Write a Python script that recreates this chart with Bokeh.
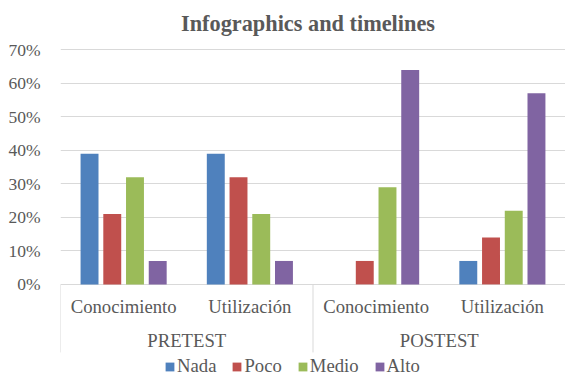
from bokeh.plotting import figure
from bokeh.models import (FactorRange, FixedTicker, NumeralTickFormatter, ColumnDataSource,
                          Legend, LegendItem, Range1d, Label)
from bokeh.transform import dodge
from bokeh.embed import file_html
from bokeh.resources import INLINE

# ---- data ----
groups = ["PRETEST", "POSTEST"]
subcats = ["Conocimiento", "Utilización"]
series = ["Nada", "Poco", "Medio", "Alto"]
colors = ["#4F81BD", "#C0504D", "#9BBB59", "#8064A2"]
nada = [39, 39, 0, 7]
poco = [21, 32, 7, 14]
medio = [32, 21, 29, 22]
alto = [7, 7, 64, 57]
y_ticks = [0, 10, 20, 30, 40, 50, 60, 70]
title_text = "Infographics and timelines"

FONT = "Liberation Serif"
GREY = "#595959"
GRID = "#D9D9D9"

factors = [(g, s) for g in groups for s in subcats]
values = {"Nada": nada, "Poco": poco, "Medio": medio, "Alto": alto}
data = {"x": factors}
for name in series:
    data[name] = [v / 100 for v in values[name]]
src = ColumnDataSource(data)

x_range = FactorRange(*factors, factor_padding=0, group_padding=0,
                      subgroup_padding=0, range_padding=0)

p = figure(x_range=x_range, y_range=Range1d(-0.2718, 0.8471),
           width=565, height=375, output_backend="svg", toolbar_location=None,
           min_border_left=60, min_border_right=0, min_border_top=0,
           min_border_bottom=0)

offsets = [-0.27, -0.09, 0.09, 0.27]
renderers = []
for name, off, col in zip(series, offsets, colors):
    r = p.vbar(x=dodge("x", off, range=p.x_range), top=name, width=0.142,
               source=src, fill_color=col, line_color=None)
    renderers.append(r)

# group separators below the baseline
n_sub = len(subcats)
bounds = [i * n_sub for i in range(len(groups) + 1)]
sep = ColumnDataSource(dict(x=bounds, y0=[0] * len(bounds), y1=[-0.203] * len(bounds)))
p.segment(x0="x", y0="y0", x1="x", y1="y1", source=sep, line_color=GRID, line_width=1)

# title (screen units relative to the frame)
title = Label(x=247.5, y=352.5, x_units="screen", y_units="screen", text=title_text,
              text_align="center", text_baseline="middle", text_font=FONT,
              text_font_size="22.3px", text_font_style="bold", text_color=GREY)
p.add_layout(title)

p.outline_line_color = None
p.background_fill_color = "white"
p.border_fill_color = "white"

# y axis
p.yaxis.ticker = FixedTicker(ticks=[t / 100 for t in y_ticks])
p.yaxis.formatter = NumeralTickFormatter(format="0%")
p.yaxis.axis_line_color = None
p.yaxis.major_tick_line_color = None
p.yaxis.minor_tick_line_color = None
p.yaxis.major_label_standoff = 14
p.yaxis.major_label_text_font = FONT
p.yaxis.major_label_text_font_size = "17.5px"
p.yaxis.major_label_text_color = GREY

p.ygrid.grid_line_color = GRID
p.ygrid.grid_line_width = 1
p.xgrid.visible = False

# x axis (categorical, fixed just at the baseline)
p.xaxis.fixed_location = 0.013
p.xaxis.axis_line_color = None
p.xaxis.major_tick_line_color = None
p.xaxis.minor_tick_line_color = None
p.xaxis.separator_line_color = None
p.xaxis.major_label_standoff = 10
p.xaxis.major_label_text_font = FONT
p.xaxis.major_label_text_font_size = "18.7px"
p.xaxis.major_label_text_color = GREY
p.xaxis.group_text_font = FONT
p.xaxis.group_text_font_size = "18.7px"
p.xaxis.group_text_color = GREY
p.xaxis.group_text_font_style = "normal"

legend = Legend(items=[LegendItem(label=s, renderers=[r]) for s, r in zip(series, renderers)],
                location=(104, -2), orientation="horizontal",
                background_fill_alpha=0, border_line_color=None,
                label_text_font=FONT, label_text_font_size="18.7px",
                label_text_color=GREY, glyph_width=11, glyph_height=11,
                label_standoff=2, spacing=15, padding=0, margin=0)
p.add_layout(legend)

open("out.html", "w").write(file_html(p, INLINE))
